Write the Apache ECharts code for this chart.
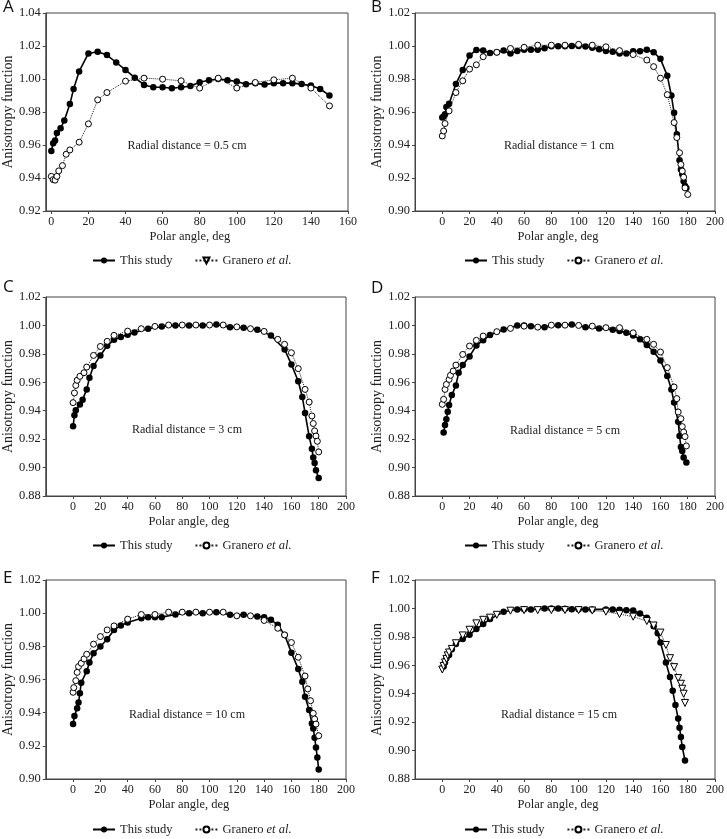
<!DOCTYPE html>
<html><head><meta charset="utf-8">
<script src="https://cdn.jsdelivr.net/npm/echarts@6/dist/echarts.min.js"></script>
<style>html,body{margin:0;padding:0;background:#fff}#c{width:727px;height:839px}</style>
</head><body><div id="c"></div>
<script>
// ---------- DATA ----------
const xTicks160 = [0,20,40,60,80,100,120,140,160];
const xTicks200 = [0,20,40,60,80,100,120,140,160,180,200];

// Panel A : r = 0.5 cm
const aStudyAng = [0,1,2,3,5,7,10,12,15,20,25,30,35,40,45,50,55,60,65,70,75,80,85,90,95,100,105,110,115,120,125,130,135,140,145,150];
const aStudyVal = [0.9564,0.9611,0.9627,0.9672,0.9702,0.9748,0.9848,0.9939,1.0046,1.0155,1.0165,1.0145,1.0100,1.0055,1.0008,0.9964,0.9950,0.9950,0.9944,0.9950,0.9957,0.9980,0.9992,1.0000,0.9993,0.9985,0.9968,0.9975,0.9966,0.9975,0.9975,0.9975,0.9969,0.9960,0.9940,0.9900];
const aGranAng = [0,1,2,3,4,6,8,10,15,20,25,30,40,50,60,70,80,90,100,110,120,130,140,150];
const aGranVal = [0.9410,0.9390,0.9387,0.9410,0.9443,0.9475,0.9544,0.9570,0.9617,0.9728,0.9874,0.9918,0.9987,1.0005,0.9999,0.9989,0.9945,1.0005,0.9945,0.9979,0.9995,1.0005,0.9945,0.9837];

// Panel B : r = 1 cm
const bStudyAng = [0,1,2,3,5,10,15,20,25,30,35,40,45,50,55,60,65,70,75,80,85,90,95,100,105,110,115,120,125,130,135,140,145,150,155,160,165,168,170,172,174,175,176,177,178,179];
const bStudyVal = [0.9566,0.9572,0.9586,0.9630,0.9650,0.9770,0.9855,0.9943,0.9976,0.9972,0.9957,0.9962,0.9972,0.9955,0.9970,0.9978,0.9978,0.9978,0.9987,0.9998,0.9998,0.9998,1.0000,1.0000,0.9997,0.9990,0.9980,0.9970,0.9965,0.9955,0.9955,0.9968,0.9968,0.9978,0.9962,0.9922,0.9820,0.9700,0.9595,0.9465,0.9307,0.9252,0.9222,0.9181,0.9151,0.9140];
const bGranAng = [0,1,2,5,10,15,20,25,30,40,50,60,70,80,90,100,110,120,130,140,150,155,160,165,170,172,174,175,176,177,178,180];
const bGranVal = [0.9455,0.9485,0.9530,0.9607,0.9718,0.9789,0.9860,0.9886,0.9935,0.9962,0.9985,0.9992,1.0005,1.0005,1.0005,1.0010,1.0005,0.9995,0.9972,0.9948,0.9915,0.9875,0.9805,0.9705,0.9536,0.9445,0.9353,0.9282,0.9242,0.9205,0.9140,0.9100];

// Panel C : r = 3 cm
const cStudyAng = [0,1,2,5,7,10,12,15,20,25,30,35,40,45,55,65,75,85,95,105,115,125,135,145,155,160,165,168,170,173,175,176,177,178,180];
const cStudyVal = [0.9290,0.9368,0.9403,0.9443,0.9478,0.9550,0.9632,0.9714,0.9789,0.9857,0.9899,0.9918,0.9934,0.9951,0.9977,0.9993,1.0000,1.0000,1.0000,1.0007,0.9988,0.9984,0.9970,0.9930,0.9831,0.9726,0.9607,0.9496,0.9384,0.9220,0.9133,0.9070,0.9033,0.8981,0.8927];
const cGranAng = [0,1,2,3,5,8,10,15,20,25,30,40,50,60,70,80,90,100,110,120,130,140,150,155,160,165,170,173,175,176,177,178,179,180];
const cGranVal = [0.9457,0.9525,0.9578,0.9614,0.9642,0.9667,0.9707,0.9789,0.9852,0.9888,0.9930,0.9960,0.9977,0.9993,1.0003,1.0003,1.0003,1.0003,1.0003,0.9990,0.9977,0.9958,0.9902,0.9867,0.9808,0.9696,0.9550,0.9461,0.9363,0.9310,0.9258,0.9222,0.9185,0.9110];

// Panel D : r = 5 cm
const dStudyAng = [1,2,3,4,5,7,10,12,15,20,25,30,35,45,55,60,65,75,85,95,105,115,125,130,135,140,145,150,155,160,165,168,170,173,174,175,176,177,179];
const dStudyVal = [0.9246,0.9300,0.9340,0.9393,0.9440,0.9510,0.9578,0.9667,0.9721,0.9782,0.9859,0.9895,0.9932,0.9972,1.0000,1.0000,0.9995,0.9988,1.0002,1.0007,0.9988,0.9979,0.9970,0.9960,0.9948,0.9930,0.9902,0.9862,0.9815,0.9754,0.9644,0.9550,0.9457,0.9323,0.9222,0.9145,0.9117,0.9070,0.9035];
const dGranAng = [0,1,2,3,5,6,8,10,15,20,25,30,40,50,60,70,80,90,100,110,120,130,140,150,155,160,165,170,172,173,175,176,177,178,179];
const dGranVal = [0.9445,0.9480,0.9550,0.9585,0.9620,0.9649,0.9679,0.9721,0.9796,0.9855,0.9895,0.9925,0.9956,0.9979,0.9995,0.9988,1.0002,1.0002,1.0000,0.9995,0.9984,0.9984,0.9948,0.9902,0.9867,0.9813,0.9703,0.9567,0.9485,0.9391,0.9344,0.9288,0.9250,0.9218,0.9152];

// Panel E : r = 10 cm
const eStudyAng = [0,1,3,4,5,6,10,12,15,20,25,30,35,40,50,55,60,65,75,85,95,105,115,125,135,140,145,150,155,160,165,168,170,173,175,176,177,178,179,180];
const eStudyVal = [0.9331,0.9380,0.9426,0.9462,0.9517,0.9581,0.9650,0.9702,0.9758,0.9799,0.9843,0.9899,0.9925,0.9944,0.9970,0.9976,0.9976,0.9976,0.9992,1.0000,1.0000,1.0006,0.9990,0.9990,0.9980,0.9976,0.9960,0.9930,0.9869,0.9762,0.9664,0.9587,0.9496,0.9416,0.9335,0.9305,0.9249,0.9190,0.9130,0.9057];
const eGranAng = [0,0.5,2,3,4,6,8,10,15,20,25,30,40,50,60,70,80,90,100,110,120,130,140,150,155,160,165,170,172,174,176,177,178,180];
const eGranVal = [0.9523,0.9551,0.9593,0.9643,0.9678,0.9698,0.9724,0.9752,0.9813,0.9859,0.9899,0.9923,0.9964,0.9992,0.9992,1.0006,1.0006,1.0006,1.0006,1.0006,0.9984,0.9984,0.9956,0.9909,0.9869,0.9823,0.9734,0.9621,0.9543,0.9472,0.9396,0.9362,0.9331,0.9261];

// Panel F : r = 15 cm
const fStudyAng = [1,2,3,5,7,10,15,20,25,30,35,45,55,60,65,75,80,85,90,95,100,105,110,120,125,130,135,140,145,150,155,158,160,164,167,169,171,173,174,175,176,178];
const fStudyVal = [0.9592,0.9620,0.9650,0.9673,0.9713,0.9750,0.9785,0.9815,0.9855,0.9890,0.9925,0.9977,0.9993,0.9995,0.9993,1.0000,1.0000,1.0000,0.9998,0.9995,0.9995,0.9993,0.9993,0.9993,0.9993,0.9990,0.9988,0.9985,0.9965,0.9935,0.9875,0.9825,0.9760,0.9620,0.9517,0.9420,0.9320,0.9225,0.9160,0.9095,0.9025,0.8930];
const fGranAng = [0,1,2,3,4,5,7,10,15,20,25,30,35,40,50,60,70,80,90,100,110,120,130,140,150,155,160,164,167,170,173,175,176,177,178];
const fGranVal = [0.9570,0.9595,0.9620,0.9645,0.9670,0.9690,0.9715,0.9755,0.9810,0.9850,0.9895,0.9920,0.9935,0.9955,0.9984,0.9988,0.9988,0.9988,0.9988,0.9988,0.9985,0.9977,0.9960,0.9942,0.9911,0.9880,0.9830,0.9743,0.9650,0.9587,0.9510,0.9470,0.9435,0.9400,0.9335];

const panelLetters = ['A','B','C','D','E','F'];
const radialTexts = ['Radial distance = 0.5 cm','Radial distance = 1 cm','Radial distance = 3 cm','Radial distance = 5 cm','Radial distance = 10 cm','Radial distance = 15 cm'];
const yMins = [0.92,0.90,0.88,0.88,0.90,0.88];
const yMaxs = [1.04,1.02,1.02,1.02,1.02,1.02];
const xMins = [-3,-20,-20,-20,-20,-20];
const xMaxs = [160,200,200,200,200,200];
const xTickSets = [xTicks160,xTicks200,xTicks200,xTicks200,xTicks200,xTicks200];
const yName = 'Anisotropy function';
const xName = 'Polar angle, deg';
const studyName = 'This study';
const granName = 'Granero et al.';

// ---------- LAYOUT / STYLE ----------
const SERIF = 'Liberation Serif';
const SANS = 'Open Sans';
const TXT = '#222';
const AX = '#444';
const grids = [
  {left:43, top:13, width:305, height:198},
  {left:415, top:13, width:303, height:198},
  {left:42, top:297, width:304, height:199},
  {left:415, top:297, width:304, height:199},
  {left:42, top:580, width:304, height:199},
  {left:415, top:580, width:304, height:199}
];
const legendPos = [[92,254],[464,254],[92,539],[464,539],[92,823],[464,823]];
const letterPos = [[3,9],[371,9],[3,289],[371,290],[3,580],[371,580]];
const textPos = [[187,146],[559,146],[187,430],[565,431],[187,715],[559,715]];

const studies = [[aStudyAng,aStudyVal],[bStudyAng,bStudyVal],[cStudyAng,cStudyVal],[dStudyAng,dStudyVal],[eStudyAng,eStudyVal],[fStudyAng,fStudyVal]];
const grans = [[aGranAng,aGranVal],[bGranAng,bGranVal],[cGranAng,cGranVal],[dGranAng,dGranVal],[eGranAng,eGranVal],[fGranAng,fGranVal]];
const zip = (a, v) => a.map((x, i) => [x, v[i]]);

// Granero series names: panels B-E share the legend name; A and F use internal names
// (the original figure's legend in A shows a triangle, in F a circle).
const granSeriesNames = [granName + ' (A)', granName, granName, granName, granName, granName + ' (F)'];
const legendGranRef = [granName + ' (F)', granName, granName, granName, granName, granName];

const option = {
  animation: false,
  backgroundColor: '#fff',
  grid: grids.map(g => Object.assign({show: true, borderColor: AX, borderWidth: 1, backgroundColor: 'transparent'}, g)),
  xAxis: grids.map((g, i) => ({
    type: 'value', gridIndex: i, min: xMins[i], max: xMaxs[i],
    name: xName, nameLocation: 'middle', nameGap: 19,
    nameTextStyle: {fontFamily: SERIF, fontSize: 12.5, color: TXT, padding: [0, 14, 0, 0]},
    axisLine: {show: true, onZero: false, lineStyle: {color: AX, width: 1}},
    axisTick: {show: true, length: 3, customValues: xTickSets[i], lineStyle: {color: AX}},
    axisLabel: {customValues: xTickSets[i], fontFamily: SERIF, fontSize: 12, color: TXT, margin: 5},
    splitLine: {show: false}
  })),
  yAxis: grids.map((g, i) => ({
    type: 'value', gridIndex: i, min: yMins[i], max: yMaxs[i], interval: 0.02,
    name: yName, nameLocation: 'middle', nameGap: 27,
    nameTextStyle: {fontFamily: SERIF, fontSize: 14, color: TXT},
    axisLine: {show: true, onZero: false, lineStyle: {color: AX, width: 1}},
    axisTick: {show: true, length: 3, lineStyle: {color: AX}},
    axisLabel: {fontFamily: SERIF, fontSize: 12.5, color: TXT, margin: 5, formatter: v => v.toFixed(2)},
    splitLine: {show: false}
  })),
  legend: grids.map((g, i) => ({
    left: legendPos[i][0], top: legendPos[i][1], padding: 0,
    orient: 'horizontal', itemWidth: 22, itemHeight: 7.5, itemGap: 22,
    selectedMode: false,
    data: [studyName, legendGranRef[i]],
    formatter: name => name.indexOf('Granero') === 0 ? 'Granero {it|et al.}' : name,
    textStyle: {fontFamily: SERIF, fontSize: 12.5, color: TXT,
      rich: {it: {fontFamily: SERIF, fontSize: 12.5, fontStyle: 'italic', color: TXT}}}
  })),
  series: [],
  graphic: []
};

studies.forEach((s, i) => {
  option.series.push({
    type: 'line', name: studyName, xAxisIndex: i, yAxisIndex: i,
    data: zip(s[0], s[1]),
    symbol: 'circle', symbolSize: 6.5, showSymbol: true,
    lineStyle: {color: '#000', width: 1.6},
    itemStyle: {color: '#000'},
    z: 2
  });
});
grans.forEach((s, i) => {
  const tri = (i === 5);
  option.series.push({
    type: 'line', name: granSeriesNames[i], xAxisIndex: i, yAxisIndex: i,
    data: zip(s[0], s[1]),
    symbol: tri ? 'triangle' : 'circle', symbolRotate: tri ? 180 : 0,
    symbolSize: tri ? 7 : 6, showSymbol: true,
    lineStyle: {color: '#222', width: 1, type: 'dotted'},
    itemStyle: {color: '#fff', borderColor: '#000', borderWidth: 1},
    z: 3
  });
});

panelLetters.forEach((L, i) => {
  option.graphic.push({
    type: 'text', left: letterPos[i][0], top: letterPos[i][1] - 10,
    style: {text: L, font: '17px "' + SANS + '"', fill: '#111'}
  });
});
radialTexts.forEach((t, i) => {
  option.graphic.push({
    type: 'text', x: textPos[i][0], y: textPos[i][1],
    style: {text: t, font: '12px "' + SERIF + '"', fill: TXT, align: 'center', verticalAlign: 'middle'}
  });
});

const chart = echarts.init(document.getElementById('c'), null, {renderer: 'canvas'});
chart.setOption(option);
</script></body></html>
